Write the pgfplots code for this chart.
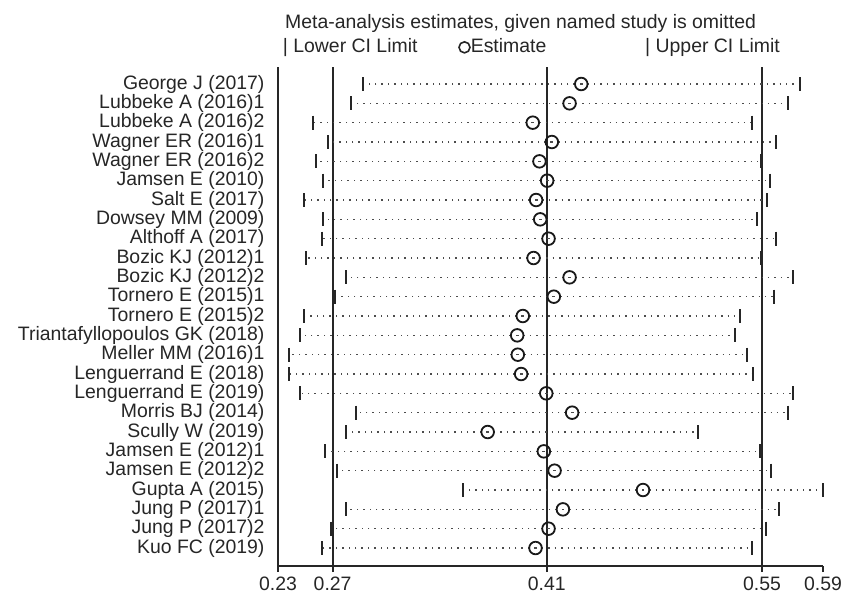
\documentclass[border=0pt]{standalone}
\usepackage{fontspec}
\setmainfont{Liberation Sans}
\usepackage{pgfplots}
\usepackage{pgfplotstable}
\pgfplotsset{compat=1.18}
\usetikzlibrary{calc}

\pgfplotstableread{
y  lo     est    hi
25 0.2863 0.4303 0.5748
24 0.2783 0.4226 0.5671
23 0.2532 0.3983 0.5428
22 0.2633 0.4109 0.5590
21 0.2554 0.4027 0.5488
20 0.2600 0.4078 0.5550
19 0.2474 0.4005 0.5532
18 0.2600 0.4032 0.5461
17 0.2589 0.4087 0.5590
16 0.2487 0.3988 0.5488
15 0.2748 0.4226 0.5704
14 0.2677 0.4122 0.5576
13 0.2474 0.3917 0.5351
12 0.2444 0.3880 0.5316
11 0.2373 0.3884 0.5395
10 0.2373 0.3906 0.5439
9  0.2446 0.4072 0.5704
8  0.2818 0.4243 0.5666
7  0.2748 0.3685 0.5075
6  0.2611 0.4056 0.5485
5  0.2693 0.4127 0.5554
4  0.3524 0.4711 0.5898
3  0.2748 0.4182 0.5611
2  0.2649 0.4087 0.5521
1  0.2589 0.4001 0.5428
}\data

\begin{document}
\begin{tikzpicture}[font=\fontsize{19.5}{22}\selectfont]
\begin{axis}[
  scale only axis, width=545bp, height=499bp,
  xmin=0.23, xmax=0.59, ymin=0.07, ymax=25.88,
  axis x line*=bottom, axis y line*=left,
  axis line style={-, line width=1.9bp, black!85},
  xtick={0.23,0.2661,0.4075,0.5497,0.59},
  xticklabels={0.23,0.27,0.41,0.55,0.59},
  ytick={1,...,25},
  yticklabels={Kuo FC (2019),Jung P (2017)2,Jung P (2017)1,Gupta A (2015),Jamsen E (2012)2,Jamsen E (2012)1,Scully W (2019),Morris BJ (2014),Lenguerrand E (2019),Lenguerrand E (2018),Meller MM (2016)1,Triantafyllopoulos GK (2018),Tornero E (2015)2,Tornero E (2015)1,Bozic KJ (2012)2,Bozic KJ (2012)1,Althoff A (2017),Dowsey MM (2009),Salt E (2017),Jamsen E (2010),Wagner ER (2016)2,Wagner ER (2016)1,Lubbeke A (2016)2,Lubbeke A (2016)1,George J (2017)},
  tick align=outside, major tick length=6bp,
  x tick style={line width=1.9bp, black!85},
  y tick style={draw=none},
  yticklabel style={xshift=-4bp, text=black!85},
  xticklabel style={yshift=-1bp, text=black!85},
  /pgf/number format/assume math mode=true,
  clip=false,
]
% reference lines
\addplot[line width=2bp, black!85] coordinates {(0.2661,0.07) (0.2661,25.88)};
\addplot[line width=2bp, black!85] coordinates {(0.4075,0.07) (0.4075,25.88)};
\addplot[line width=2bp, black!85] coordinates {(0.5497,0.07) (0.5497,25.88)};
% dotted CI lines
\addplot[draw=none, mark=none,
  error bars/.cd, x dir=both, x explicit, error mark=none,
  error bar style={line width=1.4bp, dash pattern=on 1.4bp off 5bp, black!70}]
  table[x=est, y=y, x error plus expr=\thisrow{hi}-\thisrow{est}, x error minus expr=\thisrow{est}-\thisrow{lo}] {\data};
% limits
\addplot[only marks, mark=|, mark size=7bp, mark options={line width=2bp, black!85}] table[x=lo, y=y] {\data};
\addplot[only marks, mark=|, mark size=7bp, mark options={line width=2bp, black!85}] table[x=hi, y=y] {\data};
% estimates
\addplot[only marks, mark=o, mark size=6.3bp, mark options={line width=1.8bp, black!90}] table[x=est, y=y] {\data};

\coordinate (TL) at (rel axis cs:0,1);
\coordinate (BL) at (rel axis cs:0,0);
\node[anchor=base west, inner sep=0pt, text=black!85] at ($(TL)+(7bp,38bp)$) {Meta-analysis estimates, given named study is omitted};
\node[anchor=base west, inner sep=0pt, text=black!85] at ($(TL)+(4.7bp,14bp)$) {| Lower CI Limit};
\node[anchor=base west, inner sep=0pt, text=black!85] at ($(TL)+(180bp,14bp)$) {\tikz[baseline=-7bp]\draw[line width=1.6bp, black!85] (0,0) circle (5.5bp);Estimate};
\node[anchor=base west, inner sep=0pt, text=black!85] at ($(TL)+(367bp,14bp)$) {| Upper CI Limit};
\end{axis}
\pgfresetboundingbox
\path[use as bounding box] ($(BL)+(-278bp,-28bp)$) rectangle ($(TL)+(569bp,67bp)$);
\end{tikzpicture}
\end{document}
